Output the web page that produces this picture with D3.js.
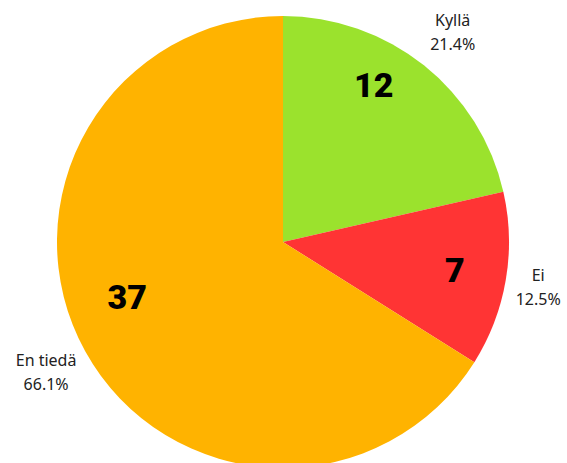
<!DOCTYPE html>
<html><head><meta charset="utf-8">
<script src="https://cdn.jsdelivr.net/npm/d3@7"></script>
<style>body{margin:0;background:#fff;}svg{display:block;}</style>
</head><body>
<script>
const categories = ["Kyllä", "Ei", "En tiedä"];
const values = [12, 7, 37];
const percentLabels = ["21.4%", "12.5%", "66.1%"];
const colors = ["#9be22d", "#ff3434", "#ffb300"];
// small angular nudges (degrees) for inner number labels
const innerAngleShift = [-8.5, -0.4, 9.6];
const innerRadius = [181, 174, 165];

const W = 567, H = 463, cx = 283, cy = 242, R = 226;
const svg = d3.select("body").append("svg").attr("width", W).attr("height", H);
const g = svg.append("g").attr("transform", `translate(${cx},${cy})`);
const pie = d3.pie().sort(null).value(d => d)(values);
const arc = d3.arc().innerRadius(0).outerRadius(R);
g.selectAll("path.slice").data(pie).enter().append("path")
  .attr("d", arc).attr("fill", (d, i) => colors[i]);

function pos(a, r) { return [r * Math.sin(a), -r * Math.cos(a)]; }

pie.forEach((d, i) => {
  const mid = (d.startAngle + d.endAngle) / 2;
  const [ix, iy] = pos(mid + innerAngleShift[i] * Math.PI / 180, innerRadius[i]);
  g.append("text").attr("x", ix).attr("y", iy).attr("text-anchor", "middle")
    .attr("dominant-baseline", "central")
    .style("font-family", "Roboto").style("font-weight", 900).style("font-size", "34px")
    .attr("fill", "#000").text(values[i]);
  const [ox, oy0] = pos(mid, 236);
  const oy = oy0 - Math.cos(mid) * 33;
  const t = g.append("text").attr("text-anchor", "middle")
    .style("font-family", "Noto Sans").style("font-size", "16px").attr("fill", "#222");
  const s1 = t.append("tspan").attr("y", oy - 6).text(categories[i]);
  const s2 = t.append("tspan").attr("y", oy + 18).text(percentLabels[i]);
  const w = Math.max(s1.node().getComputedTextLength(), s2.node().getComputedTextLength());
  const x = Math.sin(mid) >= 0 ? ox + w / 2 : ox - w / 2;
  s1.attr("x", x); s2.attr("x", x);
});
</script>
</body></html>
